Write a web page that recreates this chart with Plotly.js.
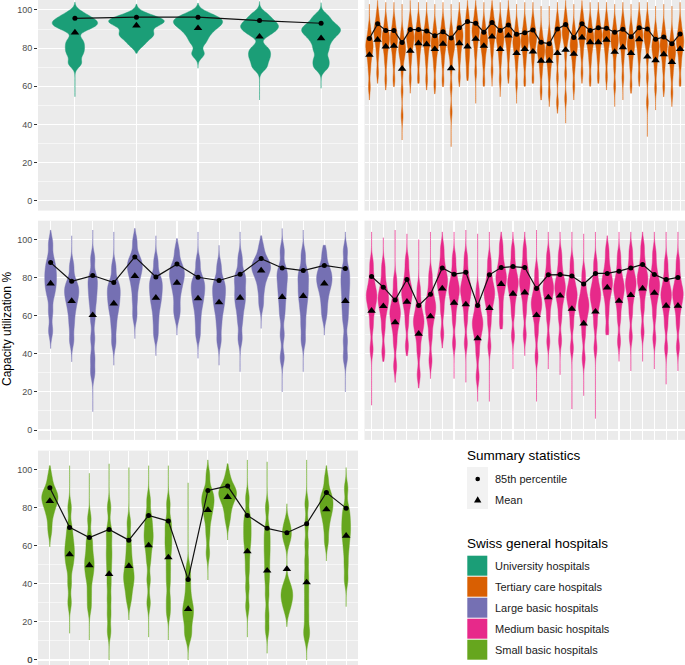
<!DOCTYPE html>
<html>
<head>
<meta charset="utf-8">
<script src="https://cdn.plot.ly/plotly-3.0.1.min.js"></script>
<style>
html,body{margin:0;padding:0;background:#ffffff;height:665px;overflow:hidden;}
#wrap{position:relative;width:685px;height:665px;overflow:hidden;}
#chart{position:absolute;left:0;top:0;width:685px;height:680px;}
#zeroLabel{position:absolute;right:652.4px;top:654px;font:9px 'Liberation Sans', Arial, sans-serif;color:#4D4D4D;line-height:12px;z-index:5;}
</style>
</head>
<body>
<div id="wrap"><div id="chart"></div><div id="zeroLabel"></div></div>
<script>
// ---------- DATA ----------
const hospitalGroups = ['University hospitals', 'Tertiary care hospitals', 'Large basic hospitals', 'Medium basic hospitals', 'Small basic hospitals'];
const statLabels = ['85th percentile', 'Mean'];
const yTickValues = [0, 20, 40, 60, 80, 100];
const yMinorValues = [10, 30, 50, 70, 90];
const legendTitleStats = 'Summary statistics';
const legendTitleGroups = 'Swiss general hospitals';
const yAxisTitle = 'Capacity utilization %';

// University hospitals
const univP85 = [95.6, 96.2, 96.2, 94.4, 93.0];
const univMean = [88.1, 91.8, 90.4, 86.0, 85.1];
const univLow = [54.5, 77.3, 69.4, 52.8, 58.9];
const univHigh = [104, 103, 103.5, 104.4, 103.8];
const univSamples = [
  [72, 77, 80.5, 84, 90, 91.5, 93, 94, 95.5, 98],
  [82, 85.5, 87, 88.5, 91.5, 93, 94, 94.5, 95.5, 97.5],
  [77, 83, 86.5, 89, 91, 92.5, 93.5, 95, 96, 98],
  [70, 74, 77, 80, 87, 89.5, 91, 92.5, 94.5, 97.5],
  [70, 74, 79, 83, 86, 88, 89.5, 91, 93, 96.5]
];

// Tertiary care hospitals
const tertP85 = [85.0, 92.7, 89.2, 89.2, 82.9, 89.7, 89.7, 89.0, 86.5, 88.6, 85.3, 90.7, 93.9, 93.0, 88.3, 93.4, 89.2, 92.1, 87.2, 88.0,
                 89.5, 83.0, 82.3, 90.0, 92.3, 85.5, 92.7, 89.2, 90.6, 90.4, 88.3, 89.9, 86.0, 90.7, 90.0, 84.6, 85.8, 82.3, 87.4];
const tertMean = [76.4, 84.3, 80.8, 81.1, 69.1, 78.5, 82.5, 82.0, 79.4, 82.2, 69.4, 82.5, 80.8, 84.8, 81.1, 86.0, 79.4, 86.5, 77.3, 79.5,
                  78.1, 73.3, 73.3, 77.3, 79.0, 76.9, 85.5, 83.0, 83.0, 84.3, 78.0, 80.4, 77.3, 84.6, 75.5, 73.6, 76.7, 72.7, 79.5];
const tertLow = [52.8, 61.5, 58, 59.8, 31.8, 56.3, 61.5, 58, 56, 59.8, 28.3, 59.8, 63, 51, 60, 60, 54.5, 61.5, 51, 60,
                 61.5, 52.8, 49.3, 45.8, 40.6, 52.8, 61.5, 60, 61.5, 58, 49.3, 52.8, 56.3, 60, 33.6, 47.5, 54.5, 49.3, 60];
const tertHigh = [103, 105, 104, 104, 103, 105, 104, 104, 103, 104, 103, 104, 105, 105, 104, 105, 104, 105, 103, 104,
                  104, 102, 102, 104, 105, 103, 105, 104, 104, 104, 103, 104, 103, 104, 104, 102, 103, 102, 104];
const tertSamples = [
  [59.5, 68.5, 73.5, 76.5, 79, 80.5, 82, 83.5, 86, 90.5],
  [67, 76, 81, 84, 86.5, 88, 89.5, 91, 93.5, 98],
  [63.5, 72.5, 77.5, 80.5, 83, 84.5, 86, 87.5, 90, 94.5],
  [63.5, 72.5, 77.5, 80.5, 83, 84.5, 86, 87.5, 90, 94.5],
  [44.5, 57.5, 67.5, 73.5, 76.5, 78.5, 80, 81.5, 84, 88.5],
  [64, 73, 78, 81, 83.5, 85, 86.5, 88, 90.5, 95],
  [64, 73, 78, 81, 83.5, 85, 86.5, 88, 90.5, 95],
  [63.5, 72.5, 77.5, 80.5, 83, 84.5, 86, 87.5, 90, 94.5],
  [61, 70, 75, 78, 80.5, 82, 83.5, 85, 87.5, 92],
  [63, 72, 77, 80, 82.5, 84, 85.5, 87, 89.5, 94],
  [46.5, 59.5, 69.5, 75.5, 78.5, 80.5, 82, 83.5, 86, 90.5],
  [65, 74, 79, 82, 84.5, 86, 87.5, 89, 91.5, 96],
  [66, 72, 76, 79, 82, 85, 88, 91, 94, 98],
  [67.5, 76.5, 81.5, 84.5, 87, 88.5, 90, 91.5, 94, 98.5],
  [62.5, 71.5, 76.5, 79.5, 82, 83.5, 85, 86.5, 89, 93.5],
  [68, 77, 82, 85, 87.5, 89, 90.5, 92, 94.5, 99],
  [63.5, 72.5, 77.5, 80.5, 83, 84.5, 86, 87.5, 90, 94.5],
  [66.5, 75.5, 80.5, 83.5, 86, 87.5, 89, 90.5, 93, 97.5],
  [61.5, 70.5, 75.5, 78.5, 81, 82.5, 84, 85.5, 88, 92.5],
  [62.5, 71.5, 76.5, 79.5, 82, 83.5, 85, 86.5, 89, 93.5],
  [64, 73, 78, 81, 83.5, 85, 86.5, 88, 90.5, 95],
  [57.5, 66.5, 71.5, 74.5, 77, 78.5, 80, 81.5, 84, 88.5],
  [56.5, 65.5, 70.5, 73.5, 76, 77.5, 79, 80.5, 83, 87.5],
  [51.5, 64.5, 74.5, 80.5, 83.5, 85.5, 87, 88.5, 91, 95.5],
  [53.5, 66.5, 76.5, 82.5, 85.5, 87.5, 89, 90.5, 93, 97.5],
  [60, 69, 74, 77, 79.5, 81, 82.5, 84, 86.5, 91],
  [67, 76, 81, 84, 86.5, 88, 89.5, 91, 93.5, 98],
  [63.5, 72.5, 77.5, 80.5, 83, 84.5, 86, 87.5, 90, 94.5],
  [65, 74, 79, 82, 84.5, 86, 87.5, 89, 91.5, 96],
  [65, 74, 79, 82, 84.5, 86, 87.5, 89, 91.5, 96],
  [60, 70, 76.5, 79.5, 82, 83.5, 85, 86.5, 89, 93.5],
  [64.5, 73.5, 78.5, 81.5, 84, 85.5, 87, 88.5, 91, 95.5],
  [60.5, 69.5, 74.5, 77.5, 80, 81.5, 83, 84.5, 87, 91.5],
  [65, 74, 79, 82, 84.5, 86, 87.5, 89, 91.5, 96],
  [51.5, 64.5, 74.5, 80.5, 83.5, 85.5, 87, 88.5, 91, 95.5],
  [59, 68, 73, 76, 78.5, 80, 81.5, 83, 85.5, 90],
  [60, 69, 74, 77, 79.5, 81, 82.5, 84, 86.5, 91],
  [56.5, 65.5, 70.5, 73.5, 76, 77.5, 79, 80.5, 83, 87.5],
  [62, 71, 76, 79, 81.5, 83, 84.5, 86, 88.5, 93]
];

// Large basic hospitals
const largeP85 = [87.9, 78.1, 81.1, 77.4, 90.9, 80.4, 87.1, 80.2, 78.5, 81.8, 90.0, 85.1, 83.7, 86.4, 84.8];
const largeMean = [76.9, 67.7, 60.3, 66.4, 80.8, 69.4, 77.3, 69.1, 67.0, 69.4, 83.7, 69.8, 70.3, 76.9, 67.7];
const largeLow = [42.8, 35.8, 9.6, 34, 48, 39, 49.8, 37.6, 34, 30.6, 53.3, 20, 30.6, 49.8, 20];
const largeHigh = [104.9, 102, 105, 104, 105.8, 102, 100.5, 104, 97, 104, 102, 105.8, 105, 97, 104];
const largeSamples = [
  [52, 62, 70, 74, 77, 80, 83, 86, 90, 98],
  [47, 55, 61, 65.5, 68.5, 71.5, 73, 76, 78, 86],
  [30, 38, 48, 58, 65, 70, 74, 78, 81, 90],
  [46, 54, 60, 64, 67, 70, 72.5, 75.5, 77.5, 85.5],
  [60, 68, 74.5, 79, 82, 85, 86, 89, 91, 99],
  [50, 57, 63, 67, 70, 73, 75.5, 78.5, 80.5, 88.5],
  [60, 65, 71, 75, 78, 81, 82, 85, 87, 94],
  [50, 57, 63, 67, 70, 73, 75, 78, 80, 88],
  [47, 55, 61, 65, 68, 71, 73.5, 76.5, 78.5, 86],
  [48, 57, 63, 67, 70, 73, 77, 80, 82, 90],
  [66, 73, 78, 81.5, 83.5, 85, 86.5, 88, 90, 96],
  [38, 50, 60, 66, 71, 75, 79, 82, 85, 94],
  [47, 55, 62, 67, 71, 74, 78, 81, 84, 92],
  [60, 66, 71, 74.5, 77, 79, 81, 83.5, 86, 93],
  [38, 47, 57, 63, 68, 73, 77, 81, 85, 94]
];

// Medium basic hospitals
const mediumP85 = [80.6, 75.0, 68.2, 79.0, 65.4, 71.3, 85.1, 81.8, 82.8, 65.4, 81.5, 85.3, 85.8, 85.3, 74.3, 81.5, 81.6, 80.8, 76.7, 82.2,
                   82.2, 83.4, 85.1, 86.9, 81.6, 79.0, 80.1];
const mediumMean = [62.6, 65.0, 56.5, 67.3, 50.5, 59.6, 74.3, 66.8, 65.9, 48.1, 64.0, 76.6, 71.5, 72.2, 60.3, 69.6, 70.5, 63.6, 55.9, 62.1,
                    74.8, 67.8, 70.8, 74.3, 72.0, 65.2, 65.2];
const mediumLow = [13, 36, 25, 39, 22, 27, 43, 27, 25, 15, 15, 53, 32, 39, 15, 32, 29, 11, 18, 6, 50, 36, 31, 36, 32, 24, 31];
const mediumHigh = [104, 101, 105, 103, 100, 104, 104, 104, 105, 103, 104, 104, 104, 104, 105, 104, 104, 104, 103, 104,
                    102, 104, 104, 104, 104, 104, 104];
const mediumSamples = [
  [42.5, 54.5, 61.5, 65.5, 68.5, 70.5, 72.5, 75.5, 80.5, 87.5],
  [41, 53, 60, 64, 67, 69, 71, 74, 79, 86],
  [33.5, 45.5, 52.5, 56.5, 59.5, 61.5, 63.5, 66.5, 71.5, 78.5],
  [44, 56, 63, 67, 70, 72, 74, 77, 82, 89],
  [29, 41, 48, 52, 55, 57, 59, 62, 67, 74],
  [36.5, 48.5, 55.5, 59.5, 62.5, 64.5, 66.5, 69.5, 74.5, 81.5],
  [50.5, 62.5, 69.5, 73.5, 76.5, 78.5, 80.5, 83.5, 88.5, 95.5],
  [45.5, 57.5, 64.5, 68.5, 71.5, 73.5, 75.5, 78.5, 83.5, 90.5],
  [45.5, 57.5, 64.5, 68.5, 71.5, 73.5, 75.5, 78.5, 83.5, 90.5],
  [28, 40, 47, 51, 54, 56, 58, 61, 66, 73],
  [44, 56, 63, 67, 70, 72, 74, 77, 82, 89],
  [56, 64, 71, 75, 78, 80, 82, 85, 90, 97],
  [49.5, 61.5, 68.5, 72.5, 75.5, 77.5, 79.5, 82.5, 87.5, 94.5],
  [50, 62, 69, 73, 76, 78, 80, 83, 88, 95],
  [38.5, 50.5, 57.5, 61.5, 64.5, 66.5, 68.5, 71.5, 76.5, 83.5],
  [46.5, 58.5, 65.5, 69.5, 72.5, 74.5, 76.5, 79.5, 84.5, 91.5],
  [47, 59, 66, 70, 73, 75, 77, 80, 85, 92],
  [43, 55, 62, 66, 69, 71, 73, 76, 81, 88],
  [37.5, 49.5, 56.5, 60.5, 63.5, 65.5, 67.5, 70.5, 75.5, 82.5],
  [43, 55, 62, 66, 69, 71, 73, 76, 81, 88],
  [52, 61.5, 68.5, 72.5, 75.5, 77.5, 79.5, 82.5, 87.5, 94.5],
  [46.5, 58.5, 65.5, 69.5, 72.5, 74.5, 76.5, 79.5, 84.5, 91.5],
  [49, 61, 68, 72, 75, 77, 79, 82, 87, 94],
  [51.5, 63.5, 70.5, 74.5, 77.5, 79.5, 81.5, 84.5, 89.5, 96.5],
  [48, 60, 67, 71, 74, 76, 78, 81, 86, 93],
  [43, 55, 62, 66, 69, 71, 73, 76, 81, 88],
  [43.5, 55.5, 62.5, 66.5, 69.5, 71.5, 73.5, 76.5, 81.5, 88.5]
];

// Small basic hospitals
const smallP85 = [90.4, 69.6, 64.3, 68.5, 62.9, 75.9, 72.9, 42.3, 89.0, 91.3, 75.9, 69.1, 66.8, 71.5, 87.9, 79.7];
const smallMean = [83.4, 55.4, 49.7, 45.1, 49.3, 60.1, 53.8, 26.7, 78.7, 85.5, 57.0, 46.9, 47.7, 40.7, 79.0, 65.2];
const smallLow = [59.4, 14, 10.5, 0, 21, 12, 10.5, 0, 42, 63, 12, 3.5, 17.5, 0, 52, 28];
const smallHigh = [102, 102, 98, 103, 101, 102, 102, 93, 105, 103, 105, 104, 82, 105, 102, 101];
const smallSamples = [
  [68, 75, 79, 81.5, 83.5, 85, 86.5, 88, 90, 96],
  [30, 40, 48, 52, 55, 58, 61, 65, 70, 80],
  [28, 35, 42, 46, 49, 52, 55, 60, 64, 74],
  [15, 24, 32, 40, 47, 53, 58, 64, 69, 80],
  [31, 36, 40, 42.5, 45, 48, 52, 57, 63, 72],
  [30, 42, 52, 58, 62, 65, 68, 72, 76, 84],
  [25, 32, 41, 48, 55, 60, 64, 69, 73, 82],
  [12, 15, 20, 23, 25.5, 28, 31, 36, 42, 48],
  [56, 66, 73, 77, 80, 82.5, 84.5, 87, 89, 97],
  [73, 78, 82, 84.5, 86, 87.5, 88.5, 90, 91.5, 97],
  [28, 38, 47, 54, 60, 64, 68, 72, 76, 85],
  [16, 24, 34, 42, 48, 54, 59, 64, 69, 80],
  [26, 30, 32.5, 34.5, 37, 40, 62, 65.5, 68, 72],
  [12, 16, 23, 30, 37, 44, 52, 61, 71, 82],
  [62, 69, 74, 77, 79.5, 81.5, 83.5, 86, 88, 95],
  [42, 50, 57, 62, 66, 69, 72.5, 76, 80, 90]
];

// ---------- STYLE ----------
const groupColors = ['#1B9E77', '#D95F02', '#7570B3', '#E7298A', '#66A61E'];
const tailColors = ['rgba(27,158,119,0.55)', 'rgba(217,95,2,0.55)', 'rgba(117,112,179,0.55)', 'rgba(231,41,138,0.55)', 'rgba(102,166,30,0.55)'];
const FONT = 'Liberation Sans, Arial, Helvetica, sans-serif';
const W = 685, H = 680, ML = 38, MB = 10;
const PW = W - ML, PH = H - MB;
const px = x => (x - ML) / PW;     // pixel -> paper x
const py = y => 1 - y / PH;        // pixel -> paper y

const panels = [
  {samples: univSamples,   low: univLow,   high: univHigh,   p85: univP85,   mean: univMean,   bw: 2.2, ax: ''},
  {samples: tertSamples,   low: tertLow,   high: tertHigh,   p85: tertP85,   mean: tertMean,   bw: 3.0, ax: '2'},
  {samples: largeSamples,  low: largeLow,  high: largeHigh,  p85: largeP85,  mean: largeMean,  bw: 3.5, ax: '3'},
  {samples: mediumSamples, low: mediumLow, high: mediumHigh, p85: mediumP85, mean: mediumMean, bw: 3.5, ax: '4'},
  {samples: smallSamples,  low: smallLow,  high: smallHigh,  p85: smallP85,  mean: smallMean,  bw: 3.5, ax: '5'}
];

// panel geometry (pixels)
const colX = [[38, 358], [364.5, 685]];
const rowY = [[0, 210.6], [220.7, 439.9], [450.6, 669.9]];
const rowRange = [[-5.2, 105.2], [-5.2, 109.9], [-5.2, 109.9]];
const panelCell = [[0, 0], [1, 0], [0, 1], [1, 1], [0, 2]]; // [col,row]

const traces = [];
const layout = {
  width: W, height: H,
  margin: {l: ML, r: 0, t: 0, b: MB, pad: 0},
  paper_bgcolor: '#ffffff',
  plot_bgcolor: '#EBEBEB',
  showlegend: false,
  violinmode: 'overlay', violingap: 0.1, violingroupgap: 0,
  font: {family: FONT, color: '#000'},
  shapes: [], annotations: []
};

panels.forEach((p, i) => {
  const xa = 'x' + p.ax, ya = 'y' + p.ax;
  p.samples.forEach((arr, j) => {
    traces.push({
      type: 'violin', y: arr, x0: j, xaxis: xa, yaxis: ya, orientation: 'v',
      bandwidth: p.bw, scalemode: 'count', scalegroup: 'panel' + i,
      spanmode: 'manual', span: [p.low[j], p.high[j]],
      points: false, box: {visible: false}, meanline: {visible: false},
      fillcolor: groupColors[i], line: {width: 0.8, color: tailColors[i]},
      hoverinfo: 'skip', name: hospitalGroups[i]
    });
  });
  const idx = p.p85.map((_, j) => j);
  traces.push({
    type: 'scatter', mode: 'lines+markers', x: idx, y: p.p85, xaxis: xa, yaxis: ya,
    line: {color: '#111', width: 1.2}, marker: {symbol: 'circle', size: 5, color: '#000'},
    hoverinfo: 'skip', name: statLabels[0]
  });
  traces.push({
    type: 'scatter', mode: 'markers', x: idx, y: p.mean, xaxis: xa, yaxis: ya,
    marker: {symbol: 'triangle-up', size: 7.5, color: '#000'},
    hoverinfo: 'skip', name: statLabels[1]
  });

  const [c, r] = panelCell[i];
  const n = p.p85.length;
  const key = p.ax;
  layout['xaxis' + key] = {
    type: 'linear', domain: [px(colX[c][0]), px(colX[c][1])], anchor: ya,
    range: [-0.6, n - 0.4], autorange: false, tickmode: 'array', tickvals: idx,
    showticklabels: false, ticks: '', showgrid: true, gridcolor: '#ffffff', gridwidth: 1.1,
    zeroline: false, showline: false, fixedrange: true
  };
  layout['yaxis' + key] = {
    type: 'linear', domain: [py(rowY[r][1]), py(rowY[r][0])], anchor: xa,
    range: rowRange[r], autorange: false, tickmode: 'array', tickvals: yTickValues,
    showticklabels: c === 0, ticks: c === 0 ? 'outside' : '', ticklen: 3, tickwidth: 1, tickcolor: '#333333',
    ticklabeloverflow: 'allow',
    tickfont: {family: FONT, size: 9, color: '#4D4D4D'},
    showgrid: true, gridcolor: '#ffffff', gridwidth: 1.1,
    minor: {tickmode: 'array', tickvals: yMinorValues, showgrid: true, gridcolor: '#ffffff', gridwidth: 0.55, ticks: ''},
    zeroline: false, showline: false, fixedrange: true
  };
});

// y axis title
layout.annotations.push({
  text: yAxisTitle, xref: 'paper', yref: 'paper', x: px(7), y: py(329),
  xanchor: 'center', yanchor: 'middle', textangle: -90, showarrow: false, borderpad: 0,
  font: {family: FONT, size: 12, color: '#000'}
});

// ---- legend: summary statistics ----
layout.annotations.push({
  text: legendTitleStats, xref: 'paper', yref: 'paper', x: px(466), y: py(455.5),
  xanchor: 'left', yanchor: 'middle', showarrow: false, borderpad: 0,
  font: {family: FONT, size: 13.5, color: '#000'}
});
layout.shapes.push({type: 'rect', xref: 'paper', yref: 'paper', x0: px(467), x1: px(488), y0: py(509), y1: py(467),
  fillcolor: '#F2F2F2', line: {width: 0}, layer: 'below'});
layout.shapes.push({type: 'circle', xref: 'paper', yref: 'paper', x0: px(475.4), x1: px(480.0), y0: py(481.3), y1: py(476.7),
  fillcolor: '#000', line: {width: 0}});
layout.shapes.push({type: 'path', xref: 'paper', yref: 'paper',
  path: `M ${px(474)} ${py(502.6)} L ${px(481.4)} ${py(502.6)} L ${px(477.7)} ${py(496.2)} Z`,
  fillcolor: '#000', line: {width: 0}});
statLabels.forEach((t, k) => {
  layout.annotations.push({
    text: t, xref: 'paper', yref: 'paper', x: px(494), y: py(479 + 21 * k),
    xanchor: 'left', yanchor: 'middle', showarrow: false, borderpad: 0,
    font: {family: FONT, size: 11, color: '#1a1a1a'}
  });
});

// ---- legend: hospital groups ----
layout.annotations.push({
  text: legendTitleGroups, xref: 'paper', yref: 'paper', x: px(466), y: py(543.3),
  xanchor: 'left', yanchor: 'middle', showarrow: false, borderpad: 0,
  font: {family: FONT, size: 13.5, color: '#000'}
});
hospitalGroups.forEach((g, k) => {
  const top = 555.7 + 21 * k;
  layout.shapes.push({type: 'rect', xref: 'paper', yref: 'paper', x0: px(467.3), x1: px(487.3), y0: py(top + 20), y1: py(top),
    fillcolor: groupColors[k], line: {width: 0}});
  layout.annotations.push({
    text: g, xref: 'paper', yref: 'paper', x: px(494), y: py(top + 10.5),
    xanchor: 'left', yanchor: 'middle', showarrow: false, borderpad: 0,
    font: {family: FONT, size: 11, color: '#1a1a1a'}
  });
});

Plotly.newPlot('chart', traces, layout, {displayModeBar: false, staticPlot: true}).then(gd => {
  // lowest tick label of the bottom panel: position it from the axis' own scale
  const ya = gd._fullLayout.yaxis5;
  const yPix = ya._offset + ya.l2p(yTickValues[0]);
  const el = document.getElementById('zeroLabel');
  el.textContent = String(yTickValues[0]);
  el.style.top = (yPix - 6) + 'px';
});
</script>
</body>
</html>
